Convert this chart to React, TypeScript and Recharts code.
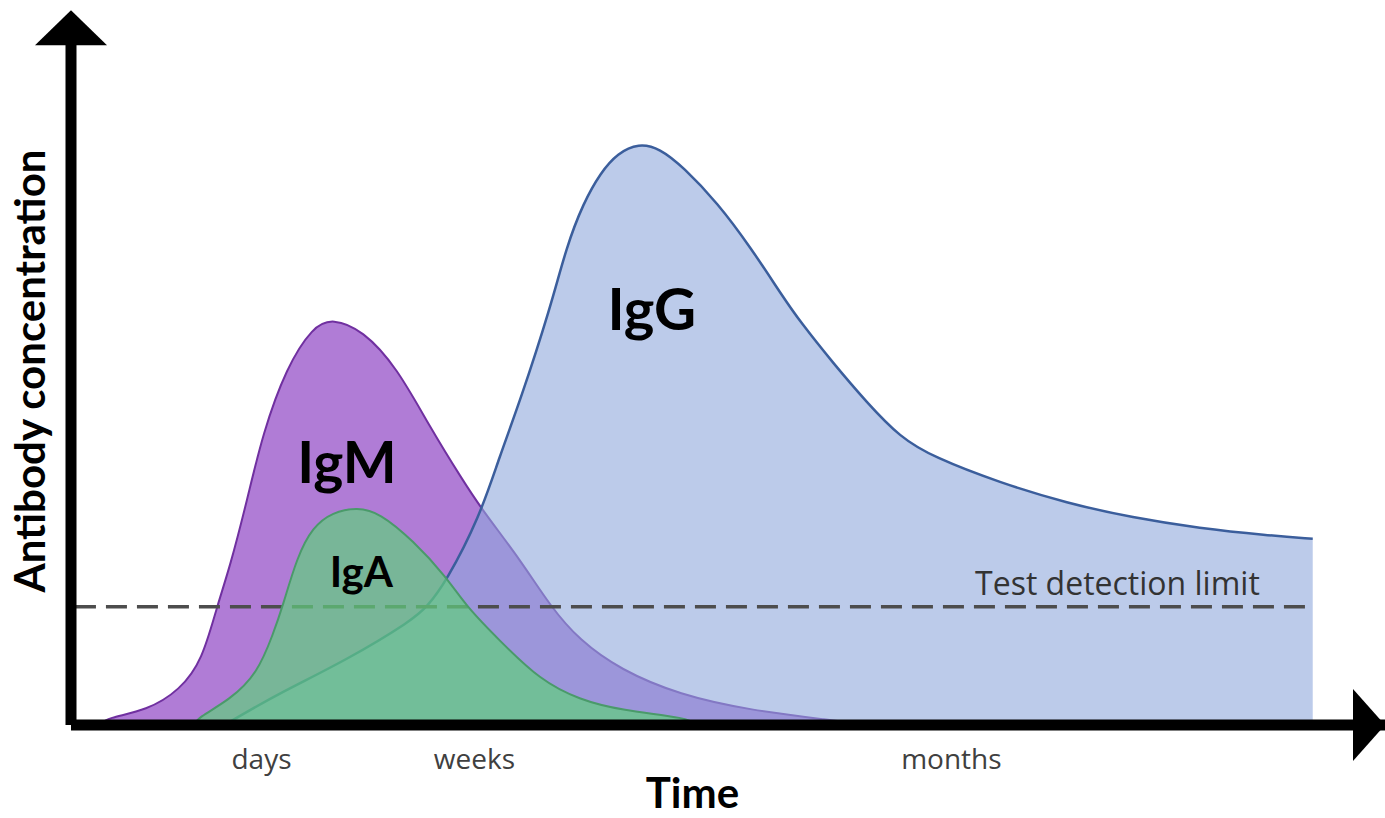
import { ComposedChart, Area, XAxis, YAxis, ReferenceLine, ReferenceDot, Label } from "recharts"

// time axis is arbitrary (0..100), concentration arbitrary (0..100)
const igmTime = [2.2, 2.7, 5.8, 8.3, 10.0, 11.1, 12.1, 13.4, 14.6, 16.4, 18.4, 19.9, 22.2, 24.8, 27.3, 29.8, 31.3, 34.2, 36.5, 38.7, 41.8, 46.3, 51.7, 57.8, 60.8]
const igmLevel = [0, 1.0, 2.1, 5.0, 9.3, 16.9, 22.6, 32.1, 41.7, 51.1, 56.9, 58.1, 56.4, 51.1, 42.6, 35.0, 30.7, 23.6, 16.9, 12.1, 7.9, 4.3, 2.1, 0.7, 0]

const igaTime = [9.4, 9.6, 12.1, 14.2, 15.4, 16.1, 17.2, 18.4, 19.9, 21.8, 23.5, 26.0, 28.6, 30.1, 32.6, 35.7, 38.7, 41.8, 47.1, 47.5]
const igaLevel = [0, 1.0, 3.6, 7.4, 13.1, 16.9, 24.0, 28.3, 30.4, 31.1, 30.3, 26.4, 21.1, 16.9, 12.1, 6.4, 3.6, 2.1, 1.0, 0]

const iggTime = [11.7, 12.3, 15.9, 21.0, 26.0, 27.1, 28.5, 31.1, 32.6, 34.2, 36.5, 37.7, 39.0, 40.3, 41.6, 43.2, 44.8, 46.6, 49.2, 51.7, 54.2, 55.5, 58.0, 60.6, 63.1, 65.6, 70.7, 75.8, 80.8, 85.9, 91.0, 94.5]
const iggLevel = [0, 0.7, 4.6, 9.3, 15.0, 16.9, 20.3, 29.7, 38.3, 46.4, 59.7, 68.3, 74.6, 78.9, 81.7, 83.1, 82.4, 79.7, 74.6, 68.3, 61.1, 57.6, 51.7, 46.0, 41.1, 38.3, 34.6, 31.7, 29.6, 28.1, 27.1, 26.6]

const detectionLimit = 16.9
const tickPositions = [14.5, 30.7, 67.0]
const tickLabels = ["days", "weeks", "months"]

const toSeries = (ts: number[], vs: number[]) => ts.map((t, i) => ({ t, v: vs[i] }))

const igmData = toSeries(igmTime, igmLevel)
const igaData = toSeries(igaTime, igaLevel)
const iggData = toSeries(iggTime, iggLevel)

const boldFont = "Lato, 'Open Sans', sans-serif"
const plainFont = "'Open Sans', sans-serif"

const textShape = (text: string, size: number, weight: number, anchor: string, font: string, fill = "#000") =>
  (props: any) => (
    <text x={props.cx} y={props.cy} textAnchor={anchor} fontSize={size} fontWeight={weight} fontFamily={font} fill={fill}>
      {text}
    </text>
  )

const arrowRight = (props: any) => (
  <polygon points={`${props.cx},${props.cy} ${props.cx - 32},${props.cy - 36} ${props.cx - 32},${props.cy + 36}`} fill="#000" />
)
const arrowUp = (props: any) => (
  <polygon points={`${props.cx},${props.cy} ${props.cx - 36},${props.cy + 35} ${props.cx + 36},${props.cy + 35}`} fill="#000" />
)

export default function App() {
  return (
    <div style={{ position: "absolute", left: 0, top: 0, width: 1385, height: 818, background: "#fff" }}>
      <ComposedChart width={1385} height={818} margin={{ top: 25, right: 0, left: 0, bottom: 0 }}>
        <XAxis
          type="number"
          dataKey="t"
          domain={[0, 100]}
          allowDataOverflow
          ticks={tickPositions}
          interval={0}
          tickFormatter={(_v: number, i: number) => tickLabels[i]}
          tickLine={false}
          tickSize={0}
          tickMargin={24}
          height={93}
          axisLine={{ stroke: "#000", strokeWidth: 11 }}
          tick={{ fill: "#404040", fontSize: 28, fontFamily: plainFont }}
        />
        <YAxis
          type="number"
          dataKey="v"
          domain={[0, 100]}
          allowDataOverflow
          tick={false}
          tickLine={false}
          width={71}
          axisLine={{ stroke: "#000", strokeWidth: 11 }}
        >
          <Label
            value="Antibody concentration"
            angle={-90}
            position="insideLeft"
            offset={30}
            dy={-4}
            style={{ textAnchor: "middle", fontFamily: boldFont, fontWeight: 700, fontSize: 42, fill: "#000" }}
          />
        </YAxis>

        <Area data={igmData} dataKey="v" type="basis" fill="#b07cd6" fillOpacity={1} stroke="#7030a0" strokeWidth={2} dot={false} activeDot={false} isAnimationActive={false} zIndex={100} />
        <Area data={iggData} dataKey="v" type="basis" fill="rgb(143,168,220)" fillOpacity={0.6} stroke="#3b5e9c" strokeWidth={2.5} dot={false} activeDot={false} isAnimationActive={false} zIndex={110} />
        <ReferenceLine
          segment={[{ x: 0.3, y: detectionLimit }, { x: 94.5, y: detectionLimit }]}
          stroke="#4d4d4d"
          strokeWidth={3.5}
          strokeDasharray="21 10"
          zIndex={120}
        />
        <Area data={igaData} dataKey="v" type="basis" fill="rgb(97,206,126)" fillOpacity={0.7} stroke="#4a9a6a" strokeWidth={2} dot={false} activeDot={false} isAnimationActive={false} zIndex={130} />

        <ReferenceDot x={100} y={0} r={0} ifOverflow="visible" shape={arrowRight} zIndex={2000} />
        <ReferenceDot x={0} y={102.1} r={0} ifOverflow="visible" shape={arrowUp} zIndex={2000} />

        <ReferenceDot x={44.2} y={56.4} r={0} ifOverflow="visible" shape={textShape("IgG", 58, 700, "middle", boldFont)} zIndex={2000} />
        <ReferenceDot x={21.0} y={34.6} r={0} ifOverflow="visible" shape={textShape("IgM", 57, 700, "middle", boldFont)} zIndex={2000} />
        <ReferenceDot x={22.1} y={19.7} r={0} ifOverflow="visible" shape={textShape("IgA", 42, 700, "middle", boldFont)} zIndex={2000} />
        <ReferenceDot x={68.8} y={18.6} r={0} ifOverflow="visible" shape={textShape("Test detection limit", 32, 400, "start", plainFont, "#333")} zIndex={2000} />
        <ReferenceDot x={47.3} y={-11.86} r={0} ifOverflow="visible" shape={textShape("Time", 42, 700, "middle", boldFont)} zIndex={2000} />
      </ComposedChart>
    </div>
  )
}
